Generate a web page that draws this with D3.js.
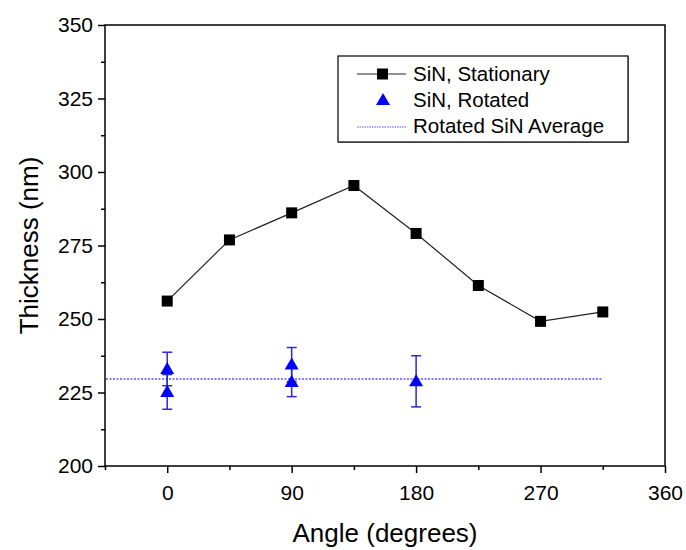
<!DOCTYPE html>
<html>
<head>
<meta charset="utf-8">
<script src="https://cdn.jsdelivr.net/npm/d3@7"></script>
<style>
  body { margin: 0; background: #fff; }
  text { font-family: 'Liberation Sans', Arial, sans-serif; fill: #000; }
</style>
</head>
<body>
<svg width="686" height="550"></svg>
<script>
// stationary measurements
const statAngles = [0, 45, 90, 135, 180, 225, 270, 315]
const statThick = [256.1, 276.9, 286.1, 295.4, 279.1, 261.4, 249.2, 252.4]

// rotated measurements with error
const rotAngles = [0, 0, 90, 90, 180]
const rotThick = [233.0, 225.2, 234.5, 228.6, 228.8]
const rotErr = [5.7, 5.9, 5.8, 5.0, 8.7]

const rotAvg = 229.6

const xTicks = [0, 90, 180, 270, 360]
const yTicks = [200, 225, 250, 275, 300, 325, 350]

const margin = { top: 25, right: 21, bottom: 84, left: 105 }
const w = 686
const h = 550
const width = w - margin.left - margin.right
const height = h - margin.top - margin.bottom
const font = "'Liberation Sans', Arial, sans-serif"

const svg = d3.select('svg')
const g = svg.append('g').attr('transform', `translate(${margin.left},${margin.top})`)

const x = d3.scaleLinear().domain([-45, 360]).range([0, width])
const y = d3.scaleLinear().domain([200, 350]).range([height, 0])

// frame
g.append('rect')
  .attr('width', width)
  .attr('height', height)
  .attr('fill', 'none')
  .attr('stroke', '#000')
  .attr('stroke-width', 1.5)

// axes
const axisX = d3.axisBottom(x).tickValues(xTicks).tickSize(7).tickPadding(12)
const gx = g.append('g').attr('transform', `translate(0,${height})`).call(axisX)
gx.select('.domain').remove()
gx.selectAll('line').attr('stroke-width', 1.5)
gx.selectAll('text').attr('font-size', 21).attr('font-family', font)

const minorX = d3.axisBottom(x).tickValues([-45, 45, 135, 225, 315]).tickSize(4).tickFormat('')
const gmx = g.append('g').attr('transform', `translate(0,${height})`).call(minorX)
gmx.select('.domain').remove()
gmx.selectAll('line').attr('stroke-width', 1.5)

const axisY = d3.axisLeft(y).tickValues(yTicks).tickSize(7).tickPadding(5)
const gy = g.append('g').call(axisY)
gy.select('.domain').remove()
gy.selectAll('line').attr('stroke-width', 1.5)
gy.selectAll('text').attr('font-size', 21).attr('font-family', font)

const minorY = d3.axisLeft(y).tickValues(yTicks.slice(0, -1).map(v => v + 12.5)).tickSize(4).tickFormat('')
const gmy = g.append('g').call(minorY)
gmy.select('.domain').remove()
gmy.selectAll('line').attr('stroke-width', 1.5)

// axis titles
svg.append('text')
  .attr('x', margin.left + width / 2)
  .attr('y', 542)
  .attr('text-anchor', 'middle')
  .attr('font-size', 26)
  .text('Angle (degrees)')

svg.append('text')
  .attr('transform', `translate(38,${margin.top + height / 2}) rotate(-90)`)
  .attr('text-anchor', 'middle')
  .attr('font-size', 26)
  .text('Thickness (nm)')

// average line
g.append('line')
  .attr('x1', x(-45) + 1)
  .attr('x2', x(315))
  .attr('y1', y(rotAvg))
  .attr('y2', y(rotAvg))
  .attr('stroke', '#5555ff')
  .attr('stroke-width', 1.5)
  .attr('stroke-dasharray', '2,1.5')

// stationary line + squares
const statData = statAngles.map((a, i) => ({ a, v: statThick[i] }))
const line = d3.line().x(d => x(d.a)).y(d => y(d.v))
g.append('path')
  .datum(statData)
  .attr('d', line)
  .attr('fill', 'none')
  .attr('stroke', '#222')
  .attr('stroke-width', 1.2)

g.selectAll('.sq')
  .data(statData)
  .enter()
  .append('rect')
  .attr('class', 'sq')
  .attr('x', d => x(d.a) - 5.5)
  .attr('y', d => y(d.v) - 5.5)
  .attr('width', 11)
  .attr('height', 11)
  .attr('fill', '#000')

// rotated with error bars
const rotData = rotAngles.map((a, i) => ({ a, v: rotThick[i], e: rotErr[i] }))
const eb = g.selectAll('.eb').data(rotData).enter().append('g').attr('class', 'eb')
eb.append('line')
  .attr('x1', d => x(d.a)).attr('x2', d => x(d.a))
  .attr('y1', d => y(d.v + d.e)).attr('y2', d => y(d.v - d.e))
  .attr('stroke', '#2b2bd8').attr('stroke-width', 1.5)
eb.append('line')
  .attr('x1', d => x(d.a) - 5).attr('x2', d => x(d.a) + 5)
  .attr('y1', d => y(d.v + d.e)).attr('y2', d => y(d.v + d.e))
  .attr('stroke', '#2b2bd8').attr('stroke-width', 1.5)
eb.append('line')
  .attr('x1', d => x(d.a) - 5).attr('x2', d => x(d.a) + 5)
  .attr('y1', d => y(d.v - d.e)).attr('y2', d => y(d.v - d.e))
  .attr('stroke', '#2b2bd8').attr('stroke-width', 1.5)

const tri = d3.symbol().type(d3.symbolTriangle).size(85)
g.selectAll('.tri')
  .data(rotData)
  .enter()
  .append('path')
  .attr('class', 'tri')
  .attr('d', tri)
  .attr('transform', d => `translate(${x(d.a)},${y(d.v) + 1})`)
  .attr('fill', '#0000ff')

// legend
const lg = svg.append('g').attr('transform', 'translate(338,56)')
lg.append('rect')
  .attr('x', 1).attr('y', 1)
  .attr('width', 290).attr('height', 86)
  .attr('fill', '#999')
lg.append('rect')
  .attr('width', 290).attr('height', 86)
  .attr('fill', '#fff')
  .attr('stroke', '#000')
  .attr('stroke-width', 1.2)

lg.append('line')
  .attr('x1', 19).attr('x2', 68).attr('y1', 18).attr('y2', 18)
  .attr('stroke', '#222').attr('stroke-width', 1.2)
lg.append('rect')
  .attr('x', 39).attr('y', 12.5).attr('width', 11).attr('height', 11)
  .attr('fill', '#000')
lg.append('text').attr('x', 75).attr('y', 25).attr('font-size', 20.5).text('SiN, Stationary')

lg.append('path')
  .attr('d', tri)
  .attr('transform', 'translate(45,45)')
  .attr('fill', '#0000ff')
lg.append('text').attr('x', 75).attr('y', 51).attr('font-size', 20.5).text('SiN, Rotated')

lg.append('line')
  .attr('x1', 19).attr('x2', 68).attr('y1', 71).attr('y2', 71)
  .attr('stroke', '#5555ff').attr('stroke-width', 1.2)
  .attr('stroke-dasharray', '1.5,1')
lg.append('text').attr('x', 75).attr('y', 77).attr('font-size', 20.5).text('Rotated SiN Average')
</script>
</body>
</html>
